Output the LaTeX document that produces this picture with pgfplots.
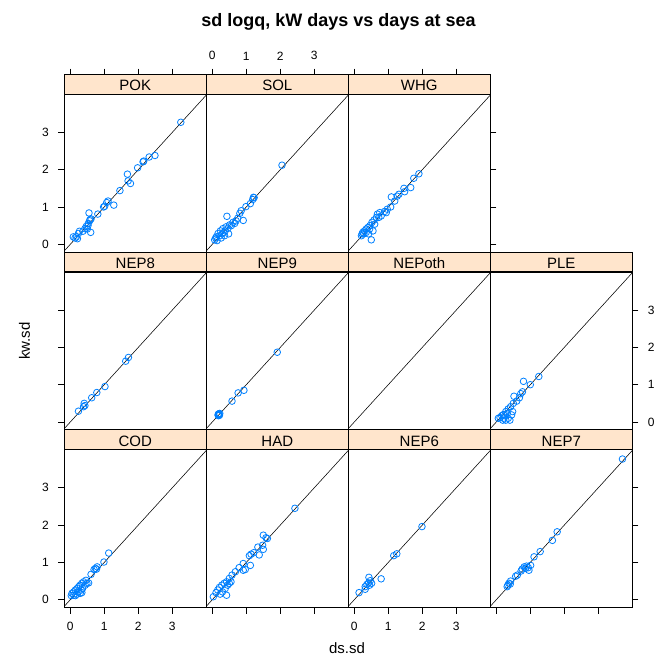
\documentclass[border=0pt]{standalone}
\usepackage{fontspec}
\setmainfont{Liberation Sans}
\usepackage{pgfplots}
\pgfplotsset{compat=1.18}
\usepgfplotslibrary{groupplots}
\definecolor{stripbg}{HTML}{FFE5CC}
\definecolor{ptblue}{HTML}{0080FF}

\pgfplotsset{
  pts/.style={only marks, mark=o, mark size=3.3pt, mark options={draw=ptblue, line width=0.8pt}},
  diag/.style={black, line width=0.55pt, no marks},
  toptick/.style={scale only axis, width=142pt, height=19.7pt, anchor=south west,
    xmin=-0.176, xmax=4.0, ymin=0, ymax=1, xtick={0,1,2,3}, xtick pos=right, ytick=\empty,
    tick align=outside, major tick length=6pt, every tick/.style={black, line width=0.6pt},
    axis line style={draw=none}, tick label style={font=\fontsize{12}{12}\selectfont},
    /pgf/number format/assume math mode=true, xticklabel shift=5pt},
}

\begin{document}
\begin{tikzpicture}
\begin{groupplot}[
  group style={group size=4 by 3, horizontal sep=0pt, vertical sep=19.7pt},
  scale only axis, width=142pt, height=158pt,
  xmin=-0.176, xmax=4.0, ymin=-0.214, ymax=4.02,
  xtick=\empty, ytick=\empty,
  tick align=outside, major tick length=6pt,
  every tick/.style={black, line width=0.6pt},
  axis line style={line width=0.7pt},
  tick label style={font=\fontsize{12}{12}\selectfont},
  /pgf/number format/assume math mode=true,
  xticklabel shift=5pt, yticklabel shift=6pt,
  every axis title/.style={at={(0.5,1)}, anchor=south, fill=stripbg, draw=black, line width=0.7pt,
    minimum width=142pt, minimum height=19.7pt, inner sep=0pt, text height=15.5pt, text depth=2pt,
    font=\fontsize{15}{15}\selectfont},
]
% POK
\nextgroupplot[title=POK, ytick={0,1,2,3}, ytick pos=left]
\addplot[diag] coordinates {(-1,-1) (5,5)};
\addplot[pts] coordinates {
(3.25,3.27) (2.49,2.38) (2.32,2.34) (2.16,2.23) (2.14,2.21) (1.98,2.05) (1.68,1.88)
(1.70,1.70) (1.77,1.63) (1.46,1.44) (1.28,1.05) (1.11,1.16) (1.07,1.12) (1.01,1.02)
(0.98,1.00) (0.81,0.81) (0.55,0.84) (0.61,0.68) (0.57,0.63) (0.53,0.56) (0.47,0.48)
(0.43,0.42) (0.60,0.32) (0.27,0.35) (0.24,0.29) (0.18,0.20) (0.09,0.20) (0.14,0.17)
(0.21,0.15) (0.50,0.41) (0.37,0.35) (0.58,0.66) (0.52,0.50)};
% SOL
\nextgroupplot[title=SOL]
\addplot[diag] coordinates {(-1,-1) (5,5)};
\addplot[pts] coordinates {
(2.05,2.12) (1.23,1.25) (1.19,1.20) (1.12,1.09) (0.99,1.01) (0.85,0.90) (0.81,0.83)
(0.91,0.64) (0.75,0.70) (0.70,0.63) (0.61,0.59) (0.43,0.75) (0.51,0.52) (0.41,0.47)
(0.31,0.42) (0.24,0.36) (0.48,0.28) (0.17,0.29) (0.12,0.20) (0.07,0.12) (0.22,0.23)
(0.34,0.32) (0.29,0.28) (0.38,0.36) (0.14,0.10) (0.46,0.43) (0.56,0.50) (0.66,0.56)
(0.26,0.17) (0.10,0.17) (0.36,0.23) (1.21,1.26)};
% WHG
\nextgroupplot[title=WHG, ytick={0,1,2,3}, ytick pos=right, yticklabels={}]
\addplot[diag] coordinates {(-1,-1) (5,5)};
\addplot[pts] coordinates {
(1.90,1.89) (1.75,1.77) (1.66,1.52) (1.46,1.50) (1.48,1.41) (1.31,1.34) (1.26,1.29)
(1.09,1.27) (1.19,1.16) (1.07,1.00) (0.97,0.94) (0.89,0.88) (0.75,0.85) (0.68,0.81)
(0.65,0.72) (0.58,0.65) (0.52,0.59) (0.46,0.50) (0.40,0.45) (0.35,0.41) (0.30,0.36)
(0.25,0.32) (0.23,0.28) (0.21,0.23) (0.50,0.12) (0.42,0.28) (0.55,0.36) (0.72,0.72)
(0.79,0.76) (0.28,0.28) (0.35,0.32) (0.45,0.41) (0.60,0.54) (0.94,0.85)};
\nextgroupplot[group/empty plot]
% NEP8
\nextgroupplot[title=NEP8, ytick={0,1,2,3}, ytick pos=left, yticklabels={}]
\addplot[diag] coordinates {(-1,-1) (5,5)};
\addplot[pts] coordinates {
(1.71,1.73) (1.63,1.63) (1.02,0.95) (0.78,0.79) (0.63,0.65) (0.41,0.50) (0.43,0.44)
(0.39,0.41) (0.24,0.29)};
% NEP9
\nextgroupplot[title=NEP9]
\addplot[diag] coordinates {(-1,-1) (5,5)};
\addplot[pts] coordinates {
(1.91,1.87) (0.93,0.85) (0.76,0.78) (0.58,0.56) (0.20,0.20) (0.18,0.17) (0.22,0.23)
(0.17,0.19) (0.19,0.22) (0.21,0.18) (0.18,0.21)};
% NEPoth
\nextgroupplot[title=NEPoth]
\addplot[diag] coordinates {(-1,-1) (5,5)};
% PLE
\nextgroupplot[title=PLE, ytick={0,1,2,3}, ytick pos=right]
\addplot[diag] coordinates {(-1,-1) (5,5)};
\addplot[pts] coordinates {
(1.25,1.22) (1.00,1.00) (0.80,1.09) (0.77,0.81) (0.72,0.76) (0.68,0.65) (0.52,0.69)
(0.60,0.56) (0.50,0.50) (0.42,0.41) (0.35,0.35) (0.28,0.28) (0.21,0.20) (0.11,0.12)
(0.06,0.10) (0.45,0.19) (0.35,0.10) (0.28,0.05) (0.40,0.05) (0.21,0.10) (0.16,0.17)
(0.32,0.23) (0.25,0.17) (0.48,0.28) (0.19,0.05)};
% COD
\nextgroupplot[title=COD, xtick={0,1,2,3}, xtick pos=left, ytick={0,1,2,3}, ytick pos=left]
\addplot[diag] coordinates {(-1,-1) (5,5)};
\addplot[pts] coordinates {
(1.13,1.25) (0.99,1.01) (0.79,0.88) (0.74,0.84) (0.70,0.81) (0.77,0.82) (0.61,0.68)
(0.54,0.45) (0.46,0.52) (0.39,0.48) (0.34,0.44) (0.29,0.39) (0.25,0.35) (0.20,0.30)
(0.15,0.26) (0.10,0.21) (0.05,0.17) (0.03,0.11) (0.15,0.11) (0.29,0.17) (0.23,0.21)
(0.36,0.30) (0.44,0.39) (0.49,0.44) (0.32,0.26) (0.20,0.15) (0.10,0.12) (0.34,0.19)};
% HAD
\nextgroupplot[title=HAD, xtick={0,1,2,3}, xtick pos=left, xticklabels={}]
\addplot[diag] coordinates {(-1,-1) (5,5)};
\addplot[pts] coordinates {
(2.43,2.45) (1.50,1.73) (1.62,1.64) (1.58,1.66) (1.48,1.46) (1.50,1.35) (1.34,1.41)
(1.22,1.26) (1.09,1.18) (1.14,1.22) (1.38,1.20) (1.12,0.92) (0.91,0.97) (0.97,0.81)
(0.91,0.79) (0.79,0.86) (0.68,0.75) (0.58,0.66) (0.50,0.57) (0.42,0.48) (0.35,0.44)
(0.28,0.39) (0.21,0.33) (0.16,0.26) (0.11,0.19) (0.03,0.08) (0.42,0.12) (0.30,0.21)
(0.45,0.39) (0.55,0.48) (0.23,0.15) (0.38,0.30) (0.50,0.44)};
% NEP6
\nextgroupplot[title=NEP6, xtick={0,1,2,3}, xtick pos=left]
\addplot[diag] coordinates {(-1,-1) (5,5)};
\addplot[pts] coordinates {
(1.99,1.96) (1.25,1.23) (1.16,1.18) (0.79,0.56) (0.43,0.60) (0.47,0.51) (0.42,0.45)
(0.37,0.41) (0.32,0.35) (0.32,0.28) (0.51,0.44) (0.14,0.19) (0.45,0.39)};
% NEP7
\nextgroupplot[title=NEP7, xtick={0,1,2,3}, xtick pos=left, xticklabels={},
  ytick={0,1,2,3}, ytick pos=right, yticklabels={}]
\addplot[diag] coordinates {(-1,-1) (5,5)};
\addplot[pts] coordinates {
(3.71,3.77) (1.79,1.82) (1.65,1.59) (1.29,1.29) (1.11,1.15) (1.01,0.92) (0.94,0.86)
(0.89,0.90) (0.82,0.88) (0.76,0.82) (0.96,0.79) (0.86,0.84) (0.62,0.66) (0.57,0.63)
(0.42,0.50) (0.37,0.44) (0.34,0.39) (0.32,0.35) (0.41,0.42) (0.73,0.77)};
\end{groupplot}

% top axis ticks above the strips of the first row
\begin{axis}[toptick, at={(group c1r1.north west)}, xticklabels={}]
\end{axis}
\begin{axis}[toptick, at={(group c2r1.north west)}]
\end{axis}
\begin{axis}[toptick, at={(group c3r1.north west)}, xticklabels={}]
\end{axis}

\path ([shift={(-64.3pt,94.3pt)}]group c1r1.north west) coordinate (O);
\node[anchor=base, font=\bfseries\fontsize{18}{18}\selectfont] at ([shift={(338.5pt,-26.5pt)}]O) {sd logq, kW days vs days at sea};
\node[anchor=base, font=\fontsize{15}{15}\selectfont] at ([shift={(347pt,-653pt)}]O) {ds.sd};
\node[rotate=90, anchor=base, font=\fontsize{15}{15}\selectfont] at ([shift={(30pt,-341pt)}]O) {kw.sd};
\path (O) rectangle ([shift={(655pt,-666pt)}]O);
\end{tikzpicture}
\end{document}
